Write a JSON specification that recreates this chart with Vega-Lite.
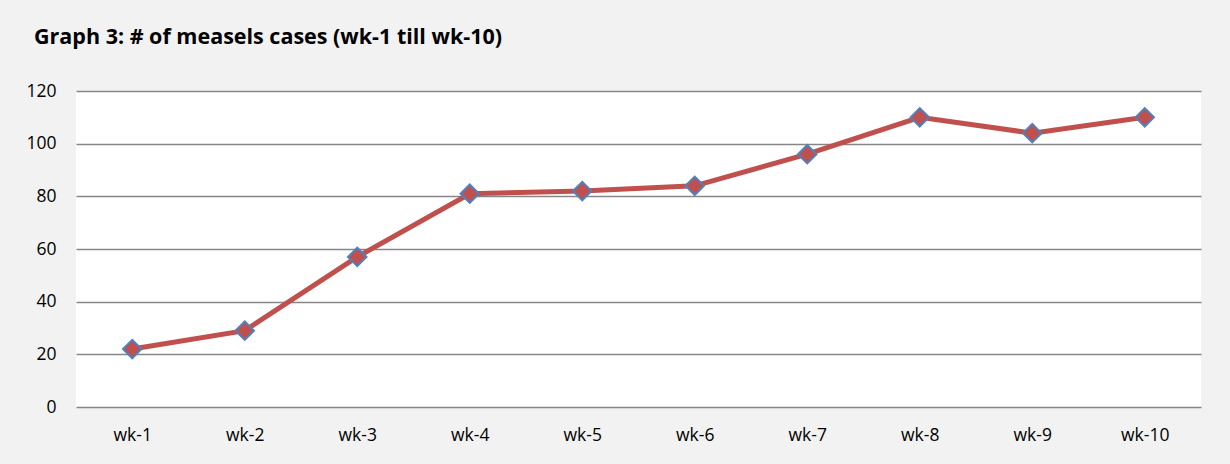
{
  "$schema": "https://vega.github.io/schema/vega-lite/v6.json",
  "width": 1125,
  "height": 316,
  "autosize": {"type": "none"},
  "padding": {"left": 76, "top": 91, "right": 29, "bottom": 57},
  "background": "#f2f2f2",
  "title": {
    "text": "Graph 3: # of measels cases (wk-1 till wk-10)",
    "anchor": "start",
    "frame": "group",
    "dx": -42,
    "offset": 17,
    "baseline": "alphabetic",
    "font": "Open Sans",
    "fontSize": 21.5,
    "fontWeight": "bold",
    "color": "#000000"
  },
  "data": {
    "values": [
      {"week": "wk-1", "cases": 22},
      {"week": "wk-2", "cases": 29},
      {"week": "wk-3", "cases": 57},
      {"week": "wk-4", "cases": 81},
      {"week": "wk-5", "cases": 82},
      {"week": "wk-6", "cases": 84},
      {"week": "wk-7", "cases": 96},
      {"week": "wk-8", "cases": 110},
      {"week": "wk-9", "cases": 104},
      {"week": "wk-10", "cases": 110}
    ]
  },
  "encoding": {
    "x": {
      "field": "week",
      "type": "ordinal",
      "sort": null,
      "scale": {"type": "point", "padding": 0.5},
      "axis": {
        "title": null,
        "labelAngle": 0,
        "domain": false,
        "ticks": false,
        "grid": false,
        "labelPadding": 19,
        "labelFont": "Open Sans",
        "labelFontSize": 17.5,
        "labelColor": "#000000"
      }
    },
    "y": {
      "field": "cases",
      "type": "quantitative",
      "scale": {"domain": [0, 120], "nice": false},
      "axis": {
        "title": null,
        "values": [0, 20, 40, 60, 80, 100, 120],
        "domain": false,
        "ticks": false,
        "grid": true,
        "gridColor": "#868686",
        "gridWidth": 1.5,
        "gridOpacity": 1,
        "labelPadding": 20,
        "labelFont": "Open Sans",
        "labelFontSize": 17.5,
        "labelColor": "#000000"
      }
    }
  },
  "layer": [
    {
      "mark": {"type": "line", "color": "#c0504d", "strokeWidth": 5}
    },
    {
      "mark": {
        "type": "point",
        "shape": "diamond",
        "filled": true,
        "fill": "#c0504d",
        "stroke": "#4f81bd",
        "strokeWidth": 2,
        "size": 340,
        "opacity": 1
      }
    }
  ],
  "config": {
    "view": {"fill": "#ffffff", "stroke": null}
  }
}
